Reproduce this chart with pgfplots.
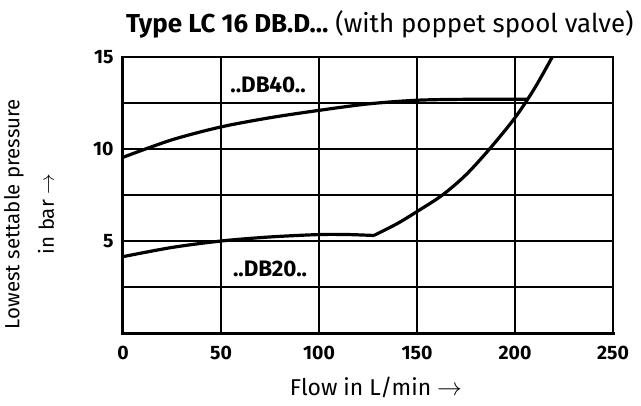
\documentclass[border=0pt]{standalone}
\usepackage{fontspec}
\setmainfont{Fira Sans}
\usepackage{pgfplots}
\pgfplotsset{compat=1.18}
\begin{document}
\begin{tikzpicture}[x=1bp,y=1bp]
\begin{axis}[
  at={(0,0)}, anchor=south west,
  scale only axis,
  width=490bp, height=276bp,
  xmin=0, xmax=250, ymin=0, ymax=15,
  xtick={0,50,...,250},
  xticklabels={0,50,100,150,200,250},
  ytick={0,2.5,5,7.5,10,12.5,15},
  yticklabels={,,5,,10,,15},
  major tick length=0pt,
  xmajorgrids=true, ymajorgrids=true,
  grid style={black, line width=1.1bp},
  axis line style={black, line width=1.3bp},
  tick label style={font=\fontsize{19.5}{22}\selectfont\bfseries},
  xticklabel style={yshift=-10bp},
  yticklabel style={xshift=-6bp},
  xlabel={Flow in L/min $\rightarrow$},
  xlabel style={font=\fontsize{23}{24}\selectfont, yshift=-10bp, xshift=8bp},
  ylabel={\begin{tabular}{c}Lowest settable pressure\\[12bp]in bar $\rightarrow$\end{tabular}},
  ylabel style={font=\fontsize{20.5}{22}\selectfont, at={(rel axis cs:-0.185,0.431)}, anchor=center},
  clip=false,
]
\draw[line width=3bp, line cap=rect] (rel axis cs:0,1) -- (rel axis cs:0,0) -- (rel axis cs:1,0);
% DB40
\addplot[black, line width=3.2bp, smooth] coordinates {
 (0,9.55) (25,10.5) (50,11.2) (75,11.7) (100,12.1) (125,12.45) (150,12.65) (175,12.7) (206,12.7)};
% DB20 flat part
\addplot[black, line width=3.2bp, smooth] coordinates {
 (0,4.15) (25,4.65) (50,5.0) (75,5.22) (100,5.35) (115,5.35) (128,5.3)};
% DB20 rising part
\addplot[black, line width=3.2bp, smooth] coordinates {
 (128,5.3) (140,5.95) (150,6.6) (163,7.5) (175,8.6) (187,10) (200,11.7) (210,13.3) (219,15)};
\node[font=\fontsize{22.5}{22}\selectfont\bfseries] at (axis cs:74,13.5) {..DB40..};
\node[font=\fontsize{22.5}{22}\selectfont\bfseries] at (axis cs:75,3.5) {..DB20..};
\node[anchor=base, font=\fontsize{26}{26}\selectfont] at (rel axis cs:0.524,1.087) {\textbf{Type LC 16 DB.D\ldots} (with poppet spool valve)};
\end{axis}
\pgfresetboundingbox
\path[use as bounding box] (-123,-72) rectangle (518,333);
\end{tikzpicture}
\end{document}
